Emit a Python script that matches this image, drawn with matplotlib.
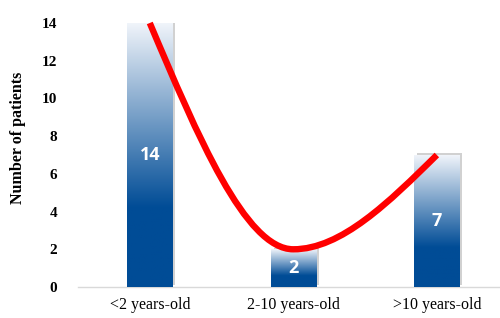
import numpy as np
import matplotlib
matplotlib.use("Agg")
import matplotlib.pyplot as plt
from matplotlib.colors import LinearSegmentedColormap
from matplotlib.path import Path
from matplotlib.patches import PathPatch
import matplotlib.patheffects as pe

# data
categories = ["<2 years-old", "2-10 years-old", ">10 years-old"]
patients = [14, 2, 7]
y_ticks = [0, 2, 4, 6, 8, 10, 12, 14]


def smooth_path(xs, ys):
    # cubic bezier through the points: flat tangent at inner extrema,
    # natural (zero curvature) ends
    verts = [(xs[0], ys[0])]
    codes = [Path.MOVETO]
    n = len(xs)
    for i in range(n - 1):
        dx = xs[i + 1] - xs[i]
        if i == 0:
            c2 = (xs[i + 1] - dx / 3, ys[i + 1])
            c1 = ((xs[i] + c2[0]) / 2, (ys[i] + c2[1]) / 2)
        else:
            c1 = (xs[i] + dx / 3, ys[i])
            c2 = ((c1[0] + xs[i + 1]) / 2, (c1[1] + ys[i + 1]) / 2)
        verts += [c1, c2, (xs[i + 1], ys[i + 1])]
        codes += [Path.CURVE4] * 3
    return Path(verts, codes)


fig = plt.figure(figsize=(5, 3.18), dpi=100)
ax = fig.add_axes([78 / 500, 31 / 318, 422 / 500, 264 / 318])

x = np.arange(len(categories))
bars = ax.bar(x, patients, width=0.314, color="white", zorder=2)

cmap = LinearSegmentedColormap.from_list(
    "bluefade", [(0.0, "#004c96"), (0.3, "#004c96"), (1.0, "#f0f4fa")])
grad = np.linspace(0, 1, 256).reshape(-1, 1)

for b in bars:
    b.set_path_effects([pe.SimplePatchShadow(offset=(2.2, 1.2), shadow_rgbFace="#9a9a9a", alpha=0.45),
                        pe.Normal()])
    x0, w, h = b.get_x(), b.get_width(), b.get_height()
    im = ax.imshow(grad, cmap=cmap, origin="lower", aspect="auto",
                   extent=(x0, x0 + w, 0, h), zorder=3)
    im.set_clip_path(b)

for xi, v in zip(x, patients):
    ax.text(xi, v / 2, str(v), ha="center", va="center", color="white",
            fontsize=13, fontweight="bold", family="Open Sans", zorder=5)

curve = PathPatch(smooth_path(x, patients), facecolor="none", edgecolor="#ff0000",
                  lw=4.6, capstyle="butt", zorder=6, clip_on=False)
ax.add_patch(curve)

ax.set_xlim(-0.5, 2.44)
ax.set_ylim(0, 14)
ax.set_yticks(y_ticks)
ax.set_xticks(x)
ax.set_xticklabels(categories, family="Liberation Serif", fontsize=11.5)
for lab in ax.get_yticklabels():
    lab.set_family("Liberation Serif")
    lab.set_fontweight("bold")
    lab.set_fontsize(11)
ax.tick_params(axis="y", length=0, pad=15)
ax.tick_params(axis="x", length=0, pad=7)
for s in ["left", "top", "right"]:
    ax.spines[s].set_visible(False)
ax.spines["bottom"].set_color("#d9d9d9")
ax.spines["bottom"].set_linewidth(1.0)

fig.text(18 / 500, 1 - 138 / 318, "Number of patients", rotation=90, ha="center", va="center",
         family="Liberation Serif", fontweight="bold", fontsize=11.5)

fig.savefig("out.png", dpi=100)
